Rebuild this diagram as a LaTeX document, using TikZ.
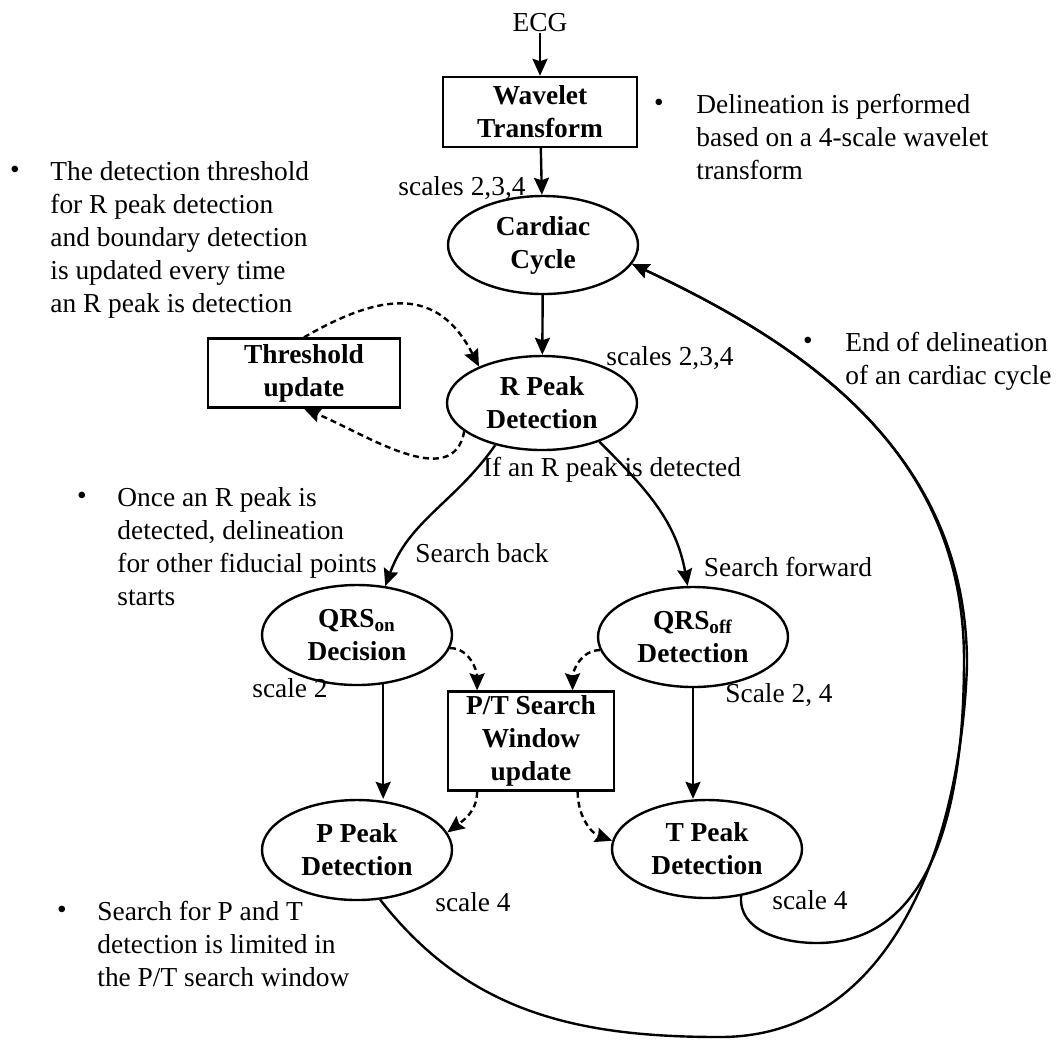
\documentclass[tikz,border=0pt]{standalone}
\usepackage{fontspec}
\setmainfont{Liberation Serif}
\usetikzlibrary{arrows.meta,shapes.geometric,calc}
\begin{document}
\begin{tikzpicture}[x=0.5pt,y=-0.5pt,
  every node/.style={font=\fontsize{13.7}{16.5}\selectfont},
  blk/.style={draw, line width=1.2pt, font=\fontsize{13.7}{16.5}\selectfont\bfseries, align=center, inner sep=0pt},
  ell/.style={blk, ellipse, minimum width=95pt, minimum height=50pt},
  box/.style={blk, rectangle},
  arr/.style={line width=1.2pt, -{Stealth[length=8.5pt,width=7.5pt,inset=1.2pt]}},
  darr/.style={arr, dash pattern=on 3pt off 2pt},
  lbl/.style={inner sep=0pt},
  note/.style={inner sep=0pt, align=left, anchor=north west},
  bul/.style={inner sep=0pt}
]
\useasboundingbox (0,0) rectangle (1059,1041);

% main nodes
\node[lbl] (ecg) at (540,23) {ECG};
\node[box, minimum width=97pt, minimum height=35pt] (wt) at (540,112) {Wavelet\\Transform};
\node[ell, minimum height=49pt] (cc) at (543,245) {Cardiac\\Cycle};
\node[ell, minimum height=47pt] (rp) at (542,403) {R Peak\\Detection};
\node[box, minimum width=96pt, minimum height=34.5pt] (th) at (304,373) {Threshold\\update};
\node[ell] (qon) at (357,635) {QRS\textsubscript{on}\\Decision};
\node[ell] (qoff) at (693,637) {QRS\textsubscript{off}\\Detection};
\node[box, minimum width=83pt, minimum height=49.5pt] (pt) at (531,741) {P/T Search\\Window\\update};
\node[ell] (pp) at (357,850) {P Peak\\Detection};
\node[ell, minimum height=49pt] (tp) at (707,849) {T Peak\\Detection};

% labels
\node[lbl] (l1) at (462,188) {scales 2,3,4};
\node[lbl] (l2) at (670,358) {scales 2,3,4};
\node[lbl] (l3) at (612,470) {If an R peak is detected};
\node[lbl] (l4) at (482,553) {Search back};
\node[lbl] (l5) at (788,567) {Search forward};
\node[lbl] (l6) at (290,688) {scale 2};
\node[lbl] (l7) at (779,695) {Scale 2, 4};
\node[lbl] (l8) at (473,902) {scale 4};
\node[lbl] (l9) at (810,900) {scale 4};

% notes
\node[bul] (b1) at (15,172) {•};
\node[note] (n1) at (50,161) {The detection threshold\\for R peak detection\\and boundary detection\\is updated every time\\an R peak is detection};
\node[bul] (b2) at (659,105) {•};
\node[note] (n2) at (696,94) {Delineation is performed\\based on a 4-scale wavelet\\transform};
\node[bul] (b3) at (82,498) {•};
\node[note] (n3) at (117,487) {Once an R peak is\\detected, delineation\\for other fiducial points\\starts};
\node[bul] (b4) at (62,912) {•};
\node[note] (n4) at (97,901) {Search for P and T\\detection is limited in\\the P/T search window};
\node[bul] (b5) at (808,343) {•};
\node[note] (n5) at (845,332) {End of delineation\\of an cardiac cycle};

% solid connectors
\draw[arr] (ecg) -- (wt);
\draw[arr] (wt) -- (cc);
\draw[arr] (cc) -- (rp);
\draw[arr] (rp.222) to[out=235,in=70] (qon.60);
\draw[arr] (rp.-34) to[out=-45,in=100] (qoff.96);
\draw[arr] (qon.-62) -- (qon.-62 |- pp.north);
\draw[arr] (qoff) -- (qoff |- tp.north);

% dashed connectors
\draw[darr] (th.north) to[out=30,in=117,looseness=1.3] (rp.150);
\draw[darr] (rp.200) to[out=-100,in=-22] (th.south);
\coordinate (pt1) at ($(pt.north west)!0.18!(pt.north east)$);
\coordinate (pt2) at ($(pt.north west)!0.747!(pt.north east)$);
\coordinate (pt3) at ($(pt.south west)!0.18!(pt.south east)$);
\coordinate (pt4) at ($(pt.south west)!0.777!(pt.south east)$);
\draw[darr] (qon.-8) to[out=0,in=90] (pt1);
\draw[darr] (qoff.188) to[out=180,in=90] (pt2);
\draw[darr] (pt3) to[out=-90,in=37] (pp.11);
\draw[darr] (pt4) to[out=-90,in=160] (tp.175);

% return curves
\coordinate (tb) at (817,943);
\coordinate (rm) at (964,660);
\coordinate (pb) at (720,1037);
\coordinate (rm2) at (967,665);
\draw[arr] (tp.-54) to[out=-95,in=180] (tb) to[out=0,in=-90] (rm) to[out=90,in=-25] (cc.-12);
\draw[arr] (pp.-65) to[out=-52,in=180] (pb) to[out=0,in=-92] (rm2) to[out=90,in=-25] (cc.-12);
\end{tikzpicture}
\end{document}
